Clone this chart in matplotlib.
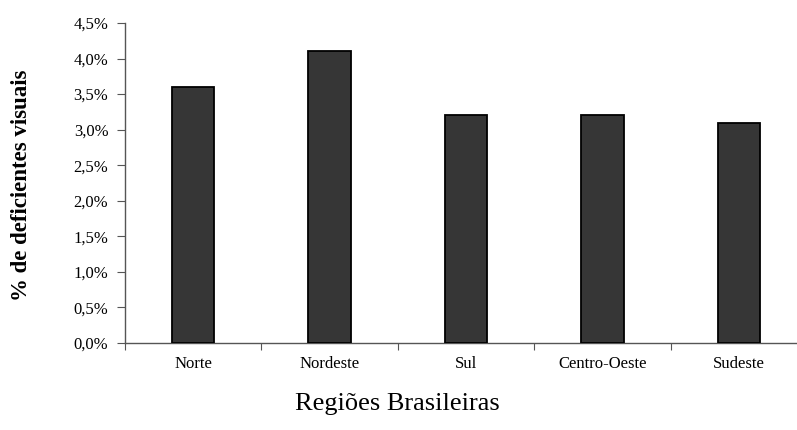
import numpy as np
import matplotlib.pyplot as plt
from matplotlib.ticker import FuncFormatter

# Data
regioes = ['Norte', 'Nordeste', 'Sul', 'Centro-Oeste', 'Sudeste']
percentuais = [3.6, 4.1, 3.2, 3.2, 3.1]
yticks = [0, 0.5, 1.0, 1.5, 2.0, 2.5, 3.0, 3.5, 4.0, 4.5]

plt.rcParams['font.family'] = ['Liberation Serif', 'DejaVu Serif']

fig = plt.figure(figsize=(7.97, 4.30), dpi=100)
# axes runs past the right edge of the figure, as in the original
ax = fig.add_axes([125 / 797, 87 / 430, 682 / 797, 320 / 430])

x = np.arange(len(regioes))
ax.bar(x, percentuais, width=0.31, color='#363636', edgecolor='black', linewidth=1.3, zorder=3)

ax.set_xlim(-0.5, len(regioes) - 0.5)
ax.set_ylim(0, 4.5)
ax.set_yticks(yticks)
ax.yaxis.set_major_formatter(FuncFormatter(lambda v, p: f'{v:.1f}%'.replace('.', ',')))

# category labels centered, tick marks at category boundaries
ax.set_xticks(np.arange(-0.5, len(regioes)), minor=False)
ax.set_xticklabels([])
ax.set_xticks(x, minor=True)
ax.set_xticklabels(regioes, minor=True, fontsize=12)
ax.tick_params(axis='x', which='minor', length=0, pad=9)
ax.tick_params(axis='x', which='major', direction='out', length=5, color='#555555')
ax.tick_params(axis='y', direction='out', length=6, labelsize=12, pad=6, color='#555555')

for s in ['top', 'right']:
    ax.spines[s].set_visible(False)
for s in ['left', 'bottom']:
    ax.spines[s].set_color('#555555')
    ax.spines[s].set_linewidth(1.0)

fig.text(22 / 797, 1 - 185 / 430, '% de deficientes visuais', fontsize=16.5, fontweight='bold',
         rotation=90, ha='center', va='center')
fig.text(397 / 797, 1 - 404 / 430, 'Regiões Brasileiras', fontsize=19, ha='center', va='center')

fig.savefig('out.png', dpi=100)
